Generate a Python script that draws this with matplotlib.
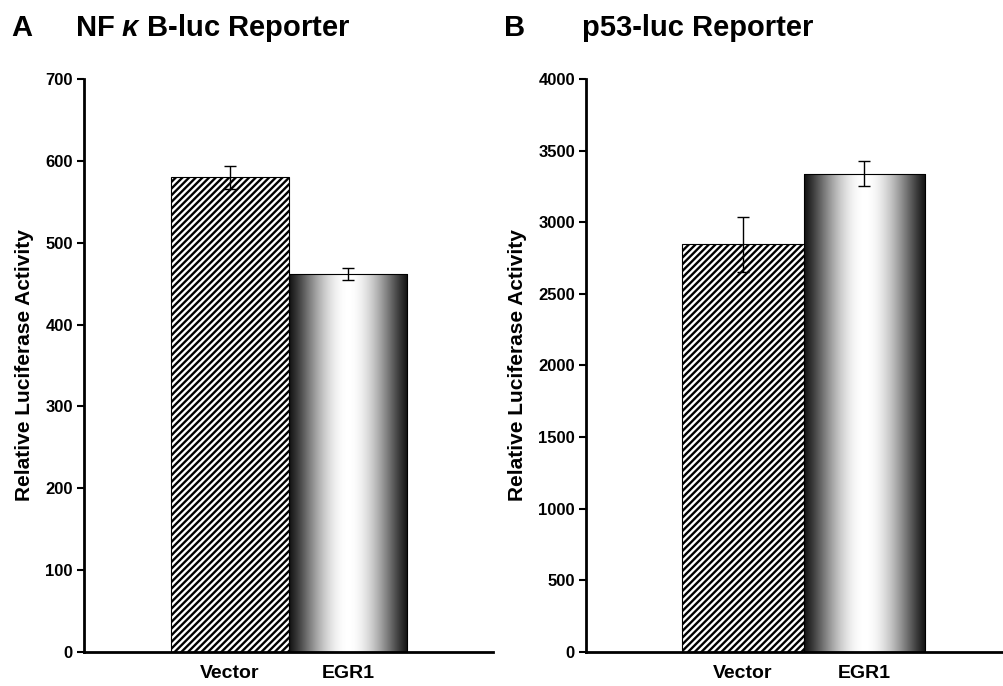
import numpy as np
import matplotlib
matplotlib.use('Agg')
import matplotlib.pyplot as plt

plt.rcParams['font.family'] = ['Liberation Sans', 'DejaVu Sans']
plt.rcParams['mathtext.fontset'] = 'custom'
plt.rcParams['mathtext.it'] = 'Liberation Sans:italic:bold'
plt.rcParams['hatch.linewidth'] = 1.7

# Data
groups = ['Vector', 'EGR1']
nfkb_vals = [580, 462]
nfkb_err = [14, 7]
p53_vals = [2845, 3340]
p53_err = [195, 90]

nfkb_ticks = [0, 100, 200, 300, 400, 500, 600, 700]
p53_ticks = [0, 500, 1000, 1500, 2000, 2500, 3000, 3500, 4000]

# grey ramp for the "cylinder" bar: dark edges, white middle
t = np.linspace(0, 1, 256)
shade = 0.08 + 0.92 * np.sin(np.pi * t) ** 1.2
shade = shade.reshape(1, -1)


def draw_panel(ax, vals, errs, ticks, xlim):
    x = np.arange(len(vals))
    bars = ax.bar(x, vals, width=1.0, color='white', edgecolor='black',
                  linewidth=0.8, zorder=2)
    bars[0].set_hatch('/////')
    bars[1].set_facecolor('none')
    b = bars[1]
    im = ax.imshow(shade, cmap='gray', vmin=0, vmax=1, aspect='auto',
                   extent=(b.get_x(), b.get_x() + b.get_width(), 0, b.get_height()),
                   zorder=1.5)
    im.set_clip_path(b)
    ax.errorbar(x, vals, yerr=errs, fmt='none', ecolor='black',
                elinewidth=1.0, capsize=4, capthick=1.0, zorder=3)
    ax.set_xlim(*xlim)
    ax.set_ylim(0, ticks[-1])
    ax.set_yticks(ticks)
    ax.set_xticks(x)
    ax.set_xticklabels(groups, fontsize=14, fontweight='bold')
    ax.tick_params(axis='x', length=0, pad=9)
    ax.tick_params(axis='y', length=5, width=1.5, labelsize=12, pad=3)
    for lab in ax.get_yticklabels():
        lab.set_fontweight('bold')
    ax.spines['top'].set_visible(False)
    ax.spines['right'].set_visible(False)
    ax.spines['left'].set_linewidth(2)
    ax.spines['bottom'].set_linewidth(2)
    ax.set_ylabel('Relative Luciferase Activity', fontsize=15, fontweight='bold',
                  labelpad=8)


fig = plt.figure(figsize=(10.04, 6.86), dpi=100)
axA = fig.add_axes([84 / 1004, 34 / 686, 409 / 1004, 573 / 686])
axB = fig.add_axes([586 / 1004, 34 / 686, 417 / 1004, 573 / 686])

draw_panel(axA, nfkb_vals, nfkb_err, nfkb_ticks, (-1.237, 2.229))
draw_panel(axB, p53_vals, p53_err, p53_ticks, (-1.292, 2.14))

fig.text(11 / 1004, 1 - 36 / 686, 'A', fontsize=21, fontweight='bold')
fig.text(75 / 1004, 1 - 36 / 686, r'NF $\kappa$ B-luc Reporter', fontsize=21,
         fontweight='bold')
fig.text(504 / 1004, 1 - 36 / 686, 'B', fontsize=21, fontweight='bold')
fig.text(582 / 1004, 1 - 36 / 686, 'p53-luc Reporter', fontsize=21,
         fontweight='bold')

fig.savefig('out.png', dpi=100)
